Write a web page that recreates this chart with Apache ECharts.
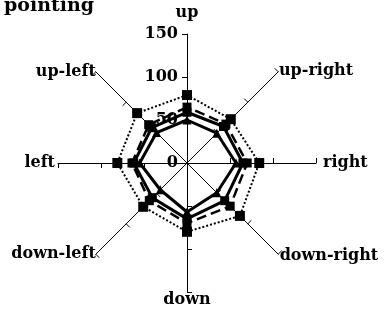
<!DOCTYPE html>
<html>
<head>
<meta charset="utf-8">
<script src="https://cdn.jsdelivr.net/npm/echarts@6/dist/echarts.min.js"></script>
<style>
  html, body { margin: 0; padding: 0; background: #fff; }
  #chart { width: 391px; height: 323px; }
</style>
</head>
<body>
<div id="chart"></div>
<script>
// directions, counter-clockwise from the top (ECharts radar order)
var directions = ['up', 'up-left', 'left', 'down-left', 'down', 'down-right', 'right', 'up-right'];
var axisMax = 150;
// values, same order as directions
var innerTri   = [50, 50, 55, 44, 57, 49, 57, 49];
var solidSq    = [59, 58, 62, 57, 65, 62, 65, 60];
var dashedSq   = [65, 63, 64, 62, 70, 71, 70, 64];
var dottedSq   = [79, 82, 81, 72, 80, 87, 84, 72];

var serif = '"DejaVu Serif", "Liberation Serif", serif';
// name gap per direction
var gaps = [13, 0, 3, 0, 0, 2, 7, 1];

var indicators = directions.map(function (d, i) {
  var ind = { name: d, min: 0, max: axisMax, nameGap: gaps[i] };
  if (d.indexOf('-') > 0) {
    // diagonal names sit beside the axis end, a bit lower
    ind.nameTextStyle = { verticalAlign: 'middle', padding: [7, 0, 0, 0] };
  }
  if (i == 0) {
    ind.axisLabel = { show: true, color: '#000', fontFamily: serif, fontSize: 16, fontWeight: 'bold', margin: 9 };
  }
  return ind;
});

function mkSeries(name, vals, symbol, size, lineType, width) {
  return {
    name: name,
    value: vals,
    symbol: symbol,
    symbolSize: size,
    itemStyle: { color: '#000' },
    lineStyle: { color: '#000', width: width, type: lineType }
  };
}

var chart = echarts.init(document.getElementById('chart'));
chart.setOption({
  animation: false,
  title: {
    text: 'pointing',
    left: -1,
    top: -8,
    textStyle: { fontFamily: serif, fontSize: 19, fontWeight: 'bold', color: '#000' }
  },
  radar: {
    center: [187, 163],
    radius: 129,
    startAngle: 90,
    shape: 'polygon',
    splitNumber: 3,
    nameGap: 8,
    axisName: { color: '#000', fontFamily: serif, fontSize: 16, fontWeight: 'bold' },
    axisLine: { lineStyle: { color: '#000', width: 1 } },
    axisTick: { show: true, length: 5, lineStyle: { color: '#000' } },
    axisLabel: { show: false },
    splitLine: { show: false },
    splitArea: { show: false },
    indicator: indicators
  },
  series: [{
    type: 'radar',
    data: [
      mkSeries('a', innerTri, 'triangle', 9, 'solid', 3),
      mkSeries('b', solidSq, 'rect', 9, 'solid', 3),
      mkSeries('c', dashedSq, 'rect', 9, 'dashed', 2.5),
      mkSeries('d', dottedSq, 'rect', 10, 'dotted', 2)
    ]
  }]
});
</script>
</body>
</html>
